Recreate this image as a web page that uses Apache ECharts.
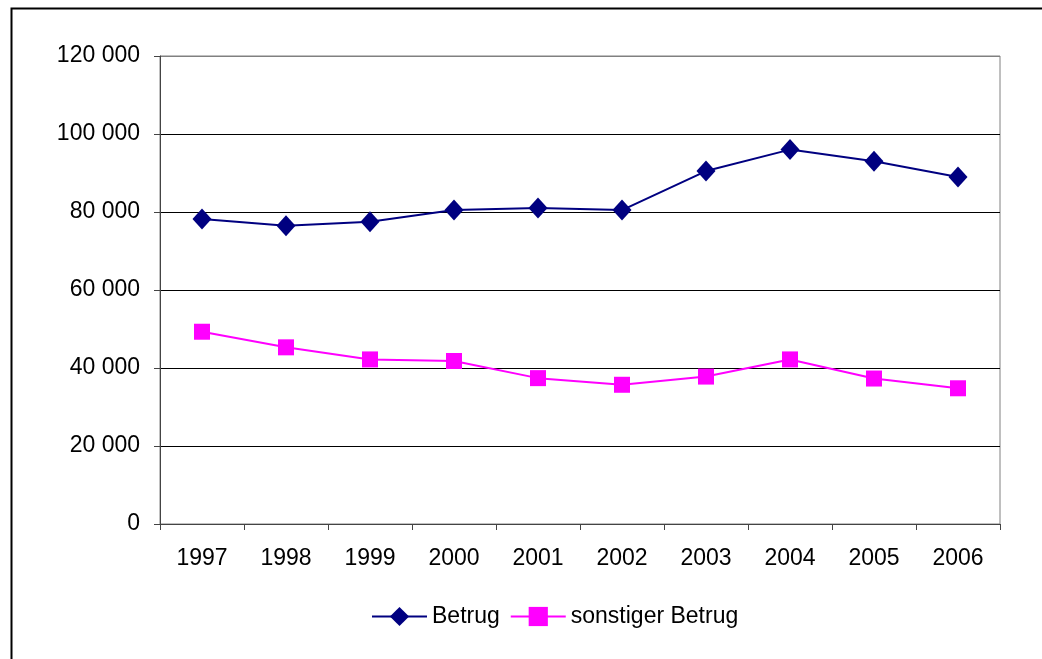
<!DOCTYPE html>
<html><head><meta charset="utf-8">
<script src="https://cdn.jsdelivr.net/npm/echarts@6/dist/echarts.min.js"></script>
<style>html,body{margin:0;padding:0;background:#fff}#c{width:1042px;height:659px}</style>
</head><body><div id="c"></div>
<script>
const years = ['1997','1998','1999','2000','2001','2002','2003','2004','2005','2006'];
const betrug = [78200, 76500, 77500, 80500, 81000, 80500, 90500, 96000, 93000, 89000];
const sonstigerBetrug = [49300, 45300, 42200, 41800, 37400, 35700, 37800, 42200, 37300, 34800];
const yTicks = [0, 20000, 40000, 60000, 80000, 100000, 120000];

const font = "'Liberation Sans', Arial, sans-serif";
const chart = echarts.init(document.getElementById('c'), null, {renderer: 'canvas'});
chart.setOption({
  animation: false,
  backgroundColor: '#fff',
  textStyle: {fontFamily: font, color: '#000'},
  graphic: [{
    type: 'rect', left: 9, top: 6, silent: true,
    shape: {x: 0, y: 0, width: 1100, height: 700},
    style: {fill: 'none', stroke: '#000', lineWidth: 2}
  }],
  grid: {left: 160, right: 42, top: 56, bottom: 135, show: true, borderColor: '#808080', borderWidth: 1},
  legend: {
    bottom: 26, left: 366, itemWidth: 55, itemHeight: 24, itemGap: 10,
    textStyle: {fontFamily: font, fontSize: 23, color: '#000'},
    data: ['Betrug', 'sonstiger Betrug']
  },
  xAxis: {
    type: 'category', data: years, boundaryGap: true,
    axisLine: {lineStyle: {color: '#444', width: 1}},
    axisTick: {show: true, length: 6, lineStyle: {color: '#444'}},
    axisLabel: {fontSize: 23, color: '#000', fontFamily: font, margin: 23}
  },
  yAxis: {
    type: 'value', min: yTicks[0], max: yTicks[yTicks.length - 1], interval: 20000,
    axisLine: {show: true, lineStyle: {color: '#444', width: 1}},
    axisTick: {show: true, length: 6, lineStyle: {color: '#444'}},
    axisLabel: {
      fontSize: 23, color: '#000', fontFamily: font, margin: 20,
      formatter: v => String(v).replace(/\B(?=(\d{3})+(?!\d))/g, ' ')
    },
    splitLine: {lineStyle: {color: ['#808080', '#000', '#000', '#000', '#000', '#000', '#808080'], width: 1}}
  },
  series: [
    {
      name: 'Betrug', type: 'line', data: betrug,
      symbol: 'diamond', symbolSize: [19, 21],
      itemStyle: {color: '#000080'},
      lineStyle: {color: '#000080', width: 2}
    },
    {
      name: 'sonstiger Betrug', type: 'line', data: sonstigerBetrug,
      symbol: 'rect', symbolSize: 16,
      itemStyle: {color: '#FF00FF'},
      lineStyle: {color: '#FF00FF', width: 2}
    }
  ]
});
</script></body></html>
